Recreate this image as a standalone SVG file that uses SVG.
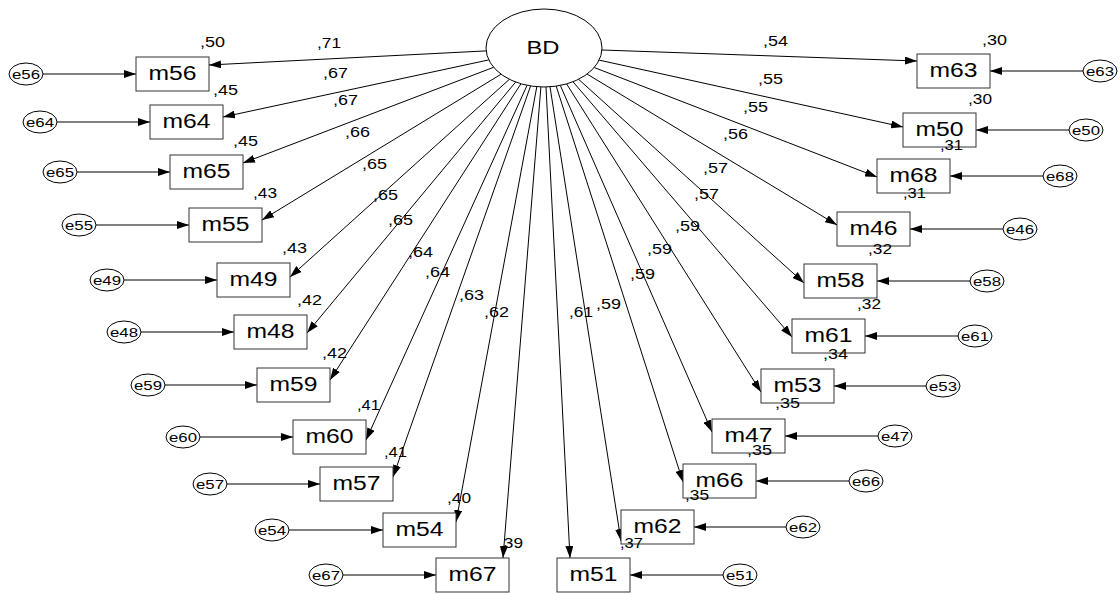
<svg xmlns="http://www.w3.org/2000/svg" width="1120" height="594" viewBox="0 0 1120 594">
<style>
.bg{fill:#fff}
.box{fill:#fff;stroke:#333;stroke-width:1}
.ell{fill:#fff;stroke:#000;stroke-width:1}
.ln{stroke:#000;stroke-width:1;fill:none;marker-end:url(#ah)}
text{font-family:"Liberation Sans",Arial,sans-serif;fill:#000}
.bt{font-size:20px;text-anchor:middle}
.et{font-size:12.5px;text-anchor:middle}
.nt{font-size:14px}
.bd{font-size:19px;text-anchor:middle}
</style>
<defs>
<marker id="ah" markerUnits="userSpaceOnUse" markerWidth="12" markerHeight="8" refX="12" refY="4" orient="auto">
<path d="M0,0 L12,4 L0,8 z" fill="#000"/>
</marker>
</defs>
<rect class="bg" x="0" y="0" width="1120" height="594"/>
<g id="connectors">
<line class="ln" x1="486.2" y1="50.9" x2="209" y2="65"/>
<line class="ln" x1="488.8" y1="59.9" x2="223" y2="117"/>
<line class="ln" x1="493.6" y1="67.3" x2="243" y2="163"/>
<line class="ln" x1="501.1" y1="74.2" x2="262" y2="220"/>
<line class="ln" x1="509.4" y1="79.3" x2="290" y2="277"/>
<line class="ln" x1="515.7" y1="82.0" x2="307" y2="333"/>
<line class="ln" x1="520.9" y1="83.8" x2="330" y2="380"/>
<line class="ln" x1="527.1" y1="85.3" x2="366" y2="440"/>
<line class="ln" x1="530.6" y1="85.9" x2="393" y2="477"/>
<line class="ln" x1="536.8" y1="86.7" x2="456" y2="522"/>
<line class="ln" x1="540.9" y1="86.9" x2="503" y2="558"/>
<line class="ln" x1="546.0" y1="87.0" x2="570" y2="558"/>
<line class="ln" x1="550.0" y1="86.8" x2="621" y2="541"/>
<line class="ln" x1="556.2" y1="86.1" x2="683" y2="482"/>
<line class="ln" x1="560.3" y1="85.4" x2="712" y2="432"/>
<line class="ln" x1="566.6" y1="83.9" x2="761" y2="392"/>
<line class="ln" x1="573.0" y1="81.8" x2="792" y2="337"/>
<line class="ln" x1="578.6" y1="79.3" x2="804" y2="283"/>
<line class="ln" x1="587.1" y1="74.1" x2="837" y2="225"/>
<line class="ln" x1="594.2" y1="67.5" x2="877" y2="177"/>
<line class="ln" x1="599.1" y1="60.1" x2="903" y2="127"/>
<line class="ln" x1="601.9" y1="50.0" x2="917" y2="61"/>
<line class="ln" x1="43" y1="74" x2="136" y2="74"/>
<line class="ln" x1="57" y1="122" x2="150" y2="122"/>
<line class="ln" x1="77" y1="172" x2="170" y2="172"/>
<line class="ln" x1="96" y1="225" x2="189" y2="225"/>
<line class="ln" x1="124" y1="280" x2="217" y2="280"/>
<line class="ln" x1="141" y1="332" x2="234" y2="332"/>
<line class="ln" x1="165" y1="385" x2="257" y2="385"/>
<line class="ln" x1="200" y1="437" x2="293" y2="437"/>
<line class="ln" x1="227" y1="484" x2="320" y2="484"/>
<line class="ln" x1="289" y1="530" x2="383" y2="530"/>
<line class="ln" x1="343" y1="575" x2="436" y2="575"/>
<line class="ln" x1="723" y1="575" x2="630" y2="575"/>
<line class="ln" x1="786" y1="527" x2="694" y2="527"/>
<line class="ln" x1="849" y1="481" x2="756" y2="481"/>
<line class="ln" x1="878" y1="436" x2="785" y2="436"/>
<line class="ln" x1="926" y1="386" x2="834" y2="386"/>
<line class="ln" x1="958" y1="336" x2="865" y2="336"/>
<line class="ln" x1="970" y1="281" x2="877" y2="281"/>
<line class="ln" x1="1003" y1="229" x2="910" y2="229"/>
<line class="ln" x1="1043" y1="176" x2="950" y2="176"/>
<line class="ln" x1="1069" y1="130" x2="976" y2="130"/>
<line class="ln" x1="1083" y1="71" x2="990" y2="71"/>
</g>
<g id="BD"><ellipse class="ell" cx="544" cy="48" rx="58" ry="39"/><text class="bd" x="543" y="54" textLength="33" lengthAdjust="spacingAndGlyphs">BD</text></g>
<g id="m56"><rect class="box" x="136" y="57" width="73" height="34"/><text class="bt" x="172.5" y="80" textLength="48" lengthAdjust="spacingAndGlyphs">m56</text></g>
<g id="m64"><rect class="box" x="150" y="105" width="73" height="34"/><text class="bt" x="186.5" y="128" textLength="48" lengthAdjust="spacingAndGlyphs">m64</text></g>
<g id="m65"><rect class="box" x="170" y="155" width="73" height="34"/><text class="bt" x="206.5" y="178" textLength="48" lengthAdjust="spacingAndGlyphs">m65</text></g>
<g id="m55"><rect class="box" x="189" y="208" width="73" height="34"/><text class="bt" x="225.5" y="231" textLength="48" lengthAdjust="spacingAndGlyphs">m55</text></g>
<g id="m49"><rect class="box" x="217" y="263" width="73" height="34"/><text class="bt" x="253.5" y="286" textLength="48" lengthAdjust="spacingAndGlyphs">m49</text></g>
<g id="m48"><rect class="box" x="234" y="315" width="73" height="34"/><text class="bt" x="270.5" y="338" textLength="48" lengthAdjust="spacingAndGlyphs">m48</text></g>
<g id="m59"><rect class="box" x="257" y="368" width="73" height="34"/><text class="bt" x="293.5" y="391" textLength="48" lengthAdjust="spacingAndGlyphs">m59</text></g>
<g id="m60"><rect class="box" x="293" y="420" width="73" height="34"/><text class="bt" x="329.5" y="443" textLength="48" lengthAdjust="spacingAndGlyphs">m60</text></g>
<g id="m57"><rect class="box" x="320" y="467" width="73" height="34"/><text class="bt" x="356.5" y="490" textLength="48" lengthAdjust="spacingAndGlyphs">m57</text></g>
<g id="m54"><rect class="box" x="383" y="513" width="73" height="34"/><text class="bt" x="419.5" y="536" textLength="48" lengthAdjust="spacingAndGlyphs">m54</text></g>
<g id="m67"><rect class="box" x="436" y="558" width="73" height="34"/><text class="bt" x="472.5" y="581" textLength="48" lengthAdjust="spacingAndGlyphs">m67</text></g>
<g id="m51"><rect class="box" x="557" y="558" width="73" height="34"/><text class="bt" x="593.5" y="581" textLength="48" lengthAdjust="spacingAndGlyphs">m51</text></g>
<g id="m62"><rect class="box" x="621" y="510" width="73" height="34"/><text class="bt" x="657.5" y="533" textLength="48" lengthAdjust="spacingAndGlyphs">m62</text></g>
<g id="m66"><rect class="box" x="683" y="464" width="73" height="34"/><text class="bt" x="719.5" y="487" textLength="48" lengthAdjust="spacingAndGlyphs">m66</text></g>
<g id="m47"><rect class="box" x="712" y="419" width="73" height="34"/><text class="bt" x="748.5" y="442" textLength="48" lengthAdjust="spacingAndGlyphs">m47</text></g>
<g id="m53"><rect class="box" x="761" y="369" width="73" height="34"/><text class="bt" x="797.5" y="392" textLength="48" lengthAdjust="spacingAndGlyphs">m53</text></g>
<g id="m61"><rect class="box" x="792" y="319" width="73" height="34"/><text class="bt" x="828.5" y="342" textLength="48" lengthAdjust="spacingAndGlyphs">m61</text></g>
<g id="m58"><rect class="box" x="804" y="264" width="73" height="34"/><text class="bt" x="840.5" y="287" textLength="48" lengthAdjust="spacingAndGlyphs">m58</text></g>
<g id="m46"><rect class="box" x="837" y="212" width="73" height="34"/><text class="bt" x="873.5" y="235" textLength="48" lengthAdjust="spacingAndGlyphs">m46</text></g>
<g id="m68"><rect class="box" x="877" y="159" width="73" height="34"/><text class="bt" x="913.5" y="182" textLength="48" lengthAdjust="spacingAndGlyphs">m68</text></g>
<g id="m50"><rect class="box" x="903" y="113" width="73" height="34"/><text class="bt" x="939.5" y="136" textLength="48" lengthAdjust="spacingAndGlyphs">m50</text></g>
<g id="m63"><rect class="box" x="917" y="54" width="73" height="34"/><text class="bt" x="953.5" y="77" textLength="48" lengthAdjust="spacingAndGlyphs">m63</text></g>
<g id="e56"><ellipse class="ell" cx="26" cy="74" rx="17" ry="11"/><text class="et" x="26" y="78.5" textLength="28" lengthAdjust="spacingAndGlyphs">e56</text></g>
<g id="e64"><ellipse class="ell" cx="40" cy="122" rx="17" ry="11"/><text class="et" x="40" y="126.5" textLength="28" lengthAdjust="spacingAndGlyphs">e64</text></g>
<g id="e65"><ellipse class="ell" cx="60" cy="172" rx="17" ry="11"/><text class="et" x="60" y="176.5" textLength="28" lengthAdjust="spacingAndGlyphs">e65</text></g>
<g id="e55"><ellipse class="ell" cx="79" cy="225" rx="17" ry="11"/><text class="et" x="79" y="229.5" textLength="28" lengthAdjust="spacingAndGlyphs">e55</text></g>
<g id="e49"><ellipse class="ell" cx="107" cy="280" rx="17" ry="11"/><text class="et" x="107" y="284.5" textLength="28" lengthAdjust="spacingAndGlyphs">e49</text></g>
<g id="e48"><ellipse class="ell" cx="124" cy="332" rx="17" ry="11"/><text class="et" x="124" y="336.5" textLength="28" lengthAdjust="spacingAndGlyphs">e48</text></g>
<g id="e59"><ellipse class="ell" cx="148" cy="385" rx="17" ry="11"/><text class="et" x="148" y="389.5" textLength="28" lengthAdjust="spacingAndGlyphs">e59</text></g>
<g id="e60"><ellipse class="ell" cx="183" cy="437" rx="17" ry="11"/><text class="et" x="183" y="441.5" textLength="28" lengthAdjust="spacingAndGlyphs">e60</text></g>
<g id="e57"><ellipse class="ell" cx="210" cy="484" rx="17" ry="11"/><text class="et" x="210" y="488.5" textLength="28" lengthAdjust="spacingAndGlyphs">e57</text></g>
<g id="e54"><ellipse class="ell" cx="272" cy="530" rx="17" ry="11"/><text class="et" x="272" y="534.5" textLength="28" lengthAdjust="spacingAndGlyphs">e54</text></g>
<g id="e67"><ellipse class="ell" cx="326" cy="575" rx="17" ry="11"/><text class="et" x="326" y="579.5" textLength="28" lengthAdjust="spacingAndGlyphs">e67</text></g>
<g id="e51"><ellipse class="ell" cx="740" cy="575" rx="17" ry="11"/><text class="et" x="740" y="579.5" textLength="28" lengthAdjust="spacingAndGlyphs">e51</text></g>
<g id="e62"><ellipse class="ell" cx="803" cy="527" rx="17" ry="11"/><text class="et" x="803" y="531.5" textLength="28" lengthAdjust="spacingAndGlyphs">e62</text></g>
<g id="e66"><ellipse class="ell" cx="866" cy="481" rx="17" ry="11"/><text class="et" x="866" y="485.5" textLength="28" lengthAdjust="spacingAndGlyphs">e66</text></g>
<g id="e47"><ellipse class="ell" cx="895" cy="436" rx="17" ry="11"/><text class="et" x="895" y="440.5" textLength="28" lengthAdjust="spacingAndGlyphs">e47</text></g>
<g id="e53"><ellipse class="ell" cx="943" cy="386" rx="17" ry="11"/><text class="et" x="943" y="390.5" textLength="28" lengthAdjust="spacingAndGlyphs">e53</text></g>
<g id="e61"><ellipse class="ell" cx="975" cy="336" rx="17" ry="11"/><text class="et" x="975" y="340.5" textLength="28" lengthAdjust="spacingAndGlyphs">e61</text></g>
<g id="e58"><ellipse class="ell" cx="987" cy="281" rx="17" ry="11"/><text class="et" x="987" y="285.5" textLength="28" lengthAdjust="spacingAndGlyphs">e58</text></g>
<g id="e46"><ellipse class="ell" cx="1020" cy="229" rx="17" ry="11"/><text class="et" x="1020" y="233.5" textLength="28" lengthAdjust="spacingAndGlyphs">e46</text></g>
<g id="e68"><ellipse class="ell" cx="1060" cy="176" rx="17" ry="11"/><text class="et" x="1060" y="180.5" textLength="28" lengthAdjust="spacingAndGlyphs">e68</text></g>
<g id="e50"><ellipse class="ell" cx="1086" cy="130" rx="17" ry="11"/><text class="et" x="1086" y="134.5" textLength="28" lengthAdjust="spacingAndGlyphs">e50</text></g>
<g id="e63"><ellipse class="ell" cx="1100" cy="71" rx="17" ry="11"/><text class="et" x="1100" y="75.5" textLength="28" lengthAdjust="spacingAndGlyphs">e63</text></g>
<g id="labels" class="nt">
<text class="nt" x="200" y="47" textLength="25" lengthAdjust="spacingAndGlyphs">,50</text>
<text class="nt" x="317" y="48" textLength="24" lengthAdjust="spacingAndGlyphs">,71</text>
<text class="nt" x="323" y="78" textLength="25" lengthAdjust="spacingAndGlyphs">,67</text>
<text class="nt" x="213" y="95" textLength="25" lengthAdjust="spacingAndGlyphs">,45</text>
<text class="nt" x="333" y="105" textLength="25" lengthAdjust="spacingAndGlyphs">,67</text>
<text class="nt" x="233" y="146" textLength="25" lengthAdjust="spacingAndGlyphs">,45</text>
<text class="nt" x="345" y="137" textLength="25" lengthAdjust="spacingAndGlyphs">,66</text>
<text class="nt" x="362" y="169" textLength="25" lengthAdjust="spacingAndGlyphs">,65</text>
<text class="nt" x="253" y="198" textLength="24" lengthAdjust="spacingAndGlyphs">,43</text>
<text class="nt" x="373" y="200" textLength="25" lengthAdjust="spacingAndGlyphs">,65</text>
<text class="nt" x="388" y="225" textLength="25" lengthAdjust="spacingAndGlyphs">,65</text>
<text class="nt" x="282" y="253" textLength="25" lengthAdjust="spacingAndGlyphs">,43</text>
<text class="nt" x="408" y="257" textLength="25" lengthAdjust="spacingAndGlyphs">,64</text>
<text class="nt" x="425" y="277" textLength="25" lengthAdjust="spacingAndGlyphs">,64</text>
<text class="nt" x="459" y="300" textLength="25" lengthAdjust="spacingAndGlyphs">,63</text>
<text class="nt" x="484" y="317" textLength="25" lengthAdjust="spacingAndGlyphs">,62</text>
<text class="nt" x="297" y="305" textLength="25" lengthAdjust="spacingAndGlyphs">,42</text>
<text class="nt" x="322" y="358" textLength="25" lengthAdjust="spacingAndGlyphs">,42</text>
<text class="nt" x="357" y="410" textLength="23" lengthAdjust="spacingAndGlyphs">,41</text>
<text class="nt" x="384" y="457" textLength="23" lengthAdjust="spacingAndGlyphs">,41</text>
<text class="nt" x="447" y="503" textLength="24" lengthAdjust="spacingAndGlyphs">,40</text>
<text class="nt" x="499" y="548" textLength="24" lengthAdjust="spacingAndGlyphs">,39</text>
<text class="nt" x="763" y="46" textLength="25" lengthAdjust="spacingAndGlyphs">,54</text>
<text class="nt" x="982" y="45" textLength="25" lengthAdjust="spacingAndGlyphs">,30</text>
<text class="nt" x="758" y="84" textLength="25" lengthAdjust="spacingAndGlyphs">,55</text>
<text class="nt" x="968" y="104" textLength="24" lengthAdjust="spacingAndGlyphs">,30</text>
<text class="nt" x="743" y="112" textLength="25" lengthAdjust="spacingAndGlyphs">,55</text>
<text class="nt" x="940" y="150" textLength="23" lengthAdjust="spacingAndGlyphs">,31</text>
<text class="nt" x="723" y="139" textLength="25" lengthAdjust="spacingAndGlyphs">,56</text>
<text class="nt" x="903" y="198" textLength="23" lengthAdjust="spacingAndGlyphs">,31</text>
<text class="nt" x="703" y="173" textLength="25" lengthAdjust="spacingAndGlyphs">,57</text>
<text class="nt" x="694" y="199" textLength="25" lengthAdjust="spacingAndGlyphs">,57</text>
<text class="nt" x="868" y="254" textLength="24" lengthAdjust="spacingAndGlyphs">,32</text>
<text class="nt" x="675" y="231" textLength="25" lengthAdjust="spacingAndGlyphs">,59</text>
<text class="nt" x="857" y="309" textLength="24" lengthAdjust="spacingAndGlyphs">,32</text>
<text class="nt" x="647" y="254" textLength="25" lengthAdjust="spacingAndGlyphs">,59</text>
<text class="nt" x="823" y="359" textLength="25" lengthAdjust="spacingAndGlyphs">,34</text>
<text class="nt" x="630" y="279" textLength="25" lengthAdjust="spacingAndGlyphs">,59</text>
<text class="nt" x="775" y="408" textLength="25" lengthAdjust="spacingAndGlyphs">,35</text>
<text class="nt" x="569" y="317" textLength="24" lengthAdjust="spacingAndGlyphs">,61</text>
<text class="nt" x="596" y="309" textLength="25" lengthAdjust="spacingAndGlyphs">,59</text>
<text class="nt" x="747" y="455" textLength="25" lengthAdjust="spacingAndGlyphs">,35</text>
<text class="nt" x="685" y="500" textLength="24" lengthAdjust="spacingAndGlyphs">,35</text>
<text class="nt" x="620" y="548" textLength="23" lengthAdjust="spacingAndGlyphs">,37</text>
</g>
</svg>
